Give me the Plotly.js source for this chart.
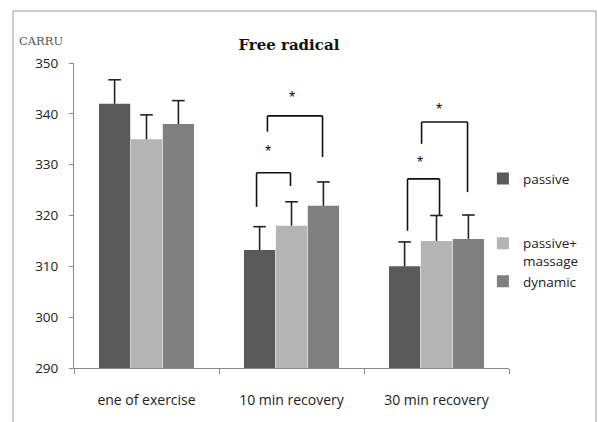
<!DOCTYPE html>
<html>
<head>
<meta charset="utf-8">
<script src="https://cdn.plot.ly/plotly-3.0.1.min.js"></script>
<style>html,body{margin:0;padding:0;background:#fff;}#chart{width:598px;height:422px;}</style>
</head>
<body>
<div id="chart"></div>
<script>
// ---- data ----
var categories = ['ene of exercise', '10 min recovery', '30 min recovery'];
var seriesNames = ['passive', 'passive+<br>massage', 'dynamic'];
var passive = [342, 313.2, 310];
var passiveErr = [4.7, 4.6, 4.8];
var massage = [335, 318, 315];
var massageErr = [4.8, 4.7, 5.0];
var dynamic = [338, 321.9, 315.4];
var dynamicErr = [4.6, 4.7, 4.7];
var yTicks = [290, 300, 310, 320, 330, 340, 350];

// significance brackets (category index, left/right offsets in category units, y values)
var bracketCat = [1, 1, 2, 2];
var bracketLeft = [-0.241, -0.166, -0.200, -0.103];
var bracketRight = [-0.007, 0.214, 0.021, 0.214];
var bracketTop = [328.4, 339.6, 327.2, 338.4];
var bracketLeftBottom = [321.7, 336.5, 317.0, 334.1];
var bracketRightBottom = [325.8, 331.5, 320.1, 324.6];
var starX = [-0.162, 0.003, -0.114, 0.017];
var starY = [333.3, 344.1, 331.3, 341.6];

var colors = ['#5a5a5a', '#b4b4b4', '#808080'];
var seriesVals = [passive, massage, dynamic];
var seriesErrs = [passiveErr, massageErr, dynamicErr];
var groups = ['a', 'b', 'b'];

var traces = [];
for (var s = 0; s < 3; s++) {
  traces.push({type: 'bar', name: seriesNames[s], x: categories, y: seriesVals[s],
    marker: {color: colors[s]}, legendgroup: groups[s], offsetgroup: 'g' + s});
}
// plus-only error bars with a cap only at the top
for (var s2 = 0; s2 < 3; s2++) {
  var tops = seriesVals[s2].map(function (v, k) { return v + seriesErrs[s2][k]; });
  traces.push({type: 'scatter', mode: 'markers', x: categories, y: tops, showlegend: false,
    offsetgroup: 'g' + s2, hoverinfo: 'skip',
    marker: {symbol: 'line-ew-open', size: 9, color: '#222', line: {width: 1.6, color: '#222'}},
    error_y: {type: 'data', symmetric: false, array: [0, 0, 0], arrayminus: seriesErrs[s2],
              width: 0, thickness: 1.6, color: '#222'}});
}

var shapes = [];
var annotations = [];
for (var i = 0; i < bracketCat.length; i++) {
  var xl = bracketCat[i] + bracketLeft[i];
  var xr = bracketCat[i] + bracketRight[i];
  var ln = {color: '#111', width: 1.6};
  shapes.push({type: 'line', xref: 'x', yref: 'y', x0: xl, x1: xl, y0: bracketLeftBottom[i], y1: bracketTop[i], line: ln});
  shapes.push({type: 'line', xref: 'x', yref: 'y', x0: xl, x1: xr, y0: bracketTop[i], y1: bracketTop[i], line: ln});
  shapes.push({type: 'line', xref: 'x', yref: 'y', x0: xr, x1: xr, y0: bracketRightBottom[i], y1: bracketTop[i], line: ln});
  annotations.push({xref: 'x', yref: 'y', x: bracketCat[i] + starX[i], y: starY[i] - 0.8, text: '*',
    showarrow: false, font: {family: 'Liberation Sans, Arial', size: 16, color: '#111'}});
}
// outer frame
shapes.push({type: 'rect', xref: 'paper', yref: 'paper', x0: -0.1402, x1: 1.2, y0: -0.3, y1: 1.1705,
  line: {color: '#9a9a9a', width: 1}, layer: 'below'});

annotations.push({xref: 'paper', yref: 'paper', x: -0.075, y: 1.073, xanchor: 'center', yanchor: 'middle',
  text: 'CARRU', showarrow: false, font: {family: 'DejaVu Serif', size: 11.5, color: '#555'}});

var layout = {
  width: 598, height: 422,
  margin: {l: 74, r: 89, t: 63, b: 54},
  paper_bgcolor: '#fff', plot_bgcolor: '#fff',
  title: {text: '<b>Free radical</b>', x: 0.494, xref: 'paper', xanchor: 'center',
          y: 0.893, yanchor: 'middle', font: {family: 'DejaVu Serif', size: 15, color: '#111'}},
  barmode: 'group', bargap: 0.34, bargroupgap: 0.02,
  scattermode: 'group', scattergap: 0.34,
  showlegend: true,
  legend: {x: 0.94, xanchor: 'left', y: 0.671, yanchor: 'top', traceorder: 'grouped',
           tracegroupgap: 44, valign: 'top', bgcolor: 'rgba(0,0,0,0)',
           font: {family: 'Open Sans', size: 13.5, color: '#222'}},
  xaxis: {type: 'category', showline: true, linecolor: '#8a8a8a', linewidth: 1,
          ticks: 'outside', tickson: 'boundaries', ticklen: 5, tickcolor: '#8a8a8a',
          showgrid: false, zeroline: false, ticklabelstandoff: 19,
          tickfont: {family: 'Open Sans', size: 14, color: '#222'}},
  yaxis: {range: [290, 350], tickvals: yTicks, showline: true, linecolor: '#8a8a8a', linewidth: 1,
          ticks: 'outside', ticklen: 4, tickcolor: '#8a8a8a', showgrid: false, zeroline: false,
          ticklabelstandoff: 8,
          tickfont: {family: 'Open Sans', size: 13.5, color: '#222'}},
  shapes: shapes,
  annotations: annotations
};

Plotly.newPlot('chart', traces, layout, {displayModeBar: false, staticPlot: true});
</script>
</body>
</html>
